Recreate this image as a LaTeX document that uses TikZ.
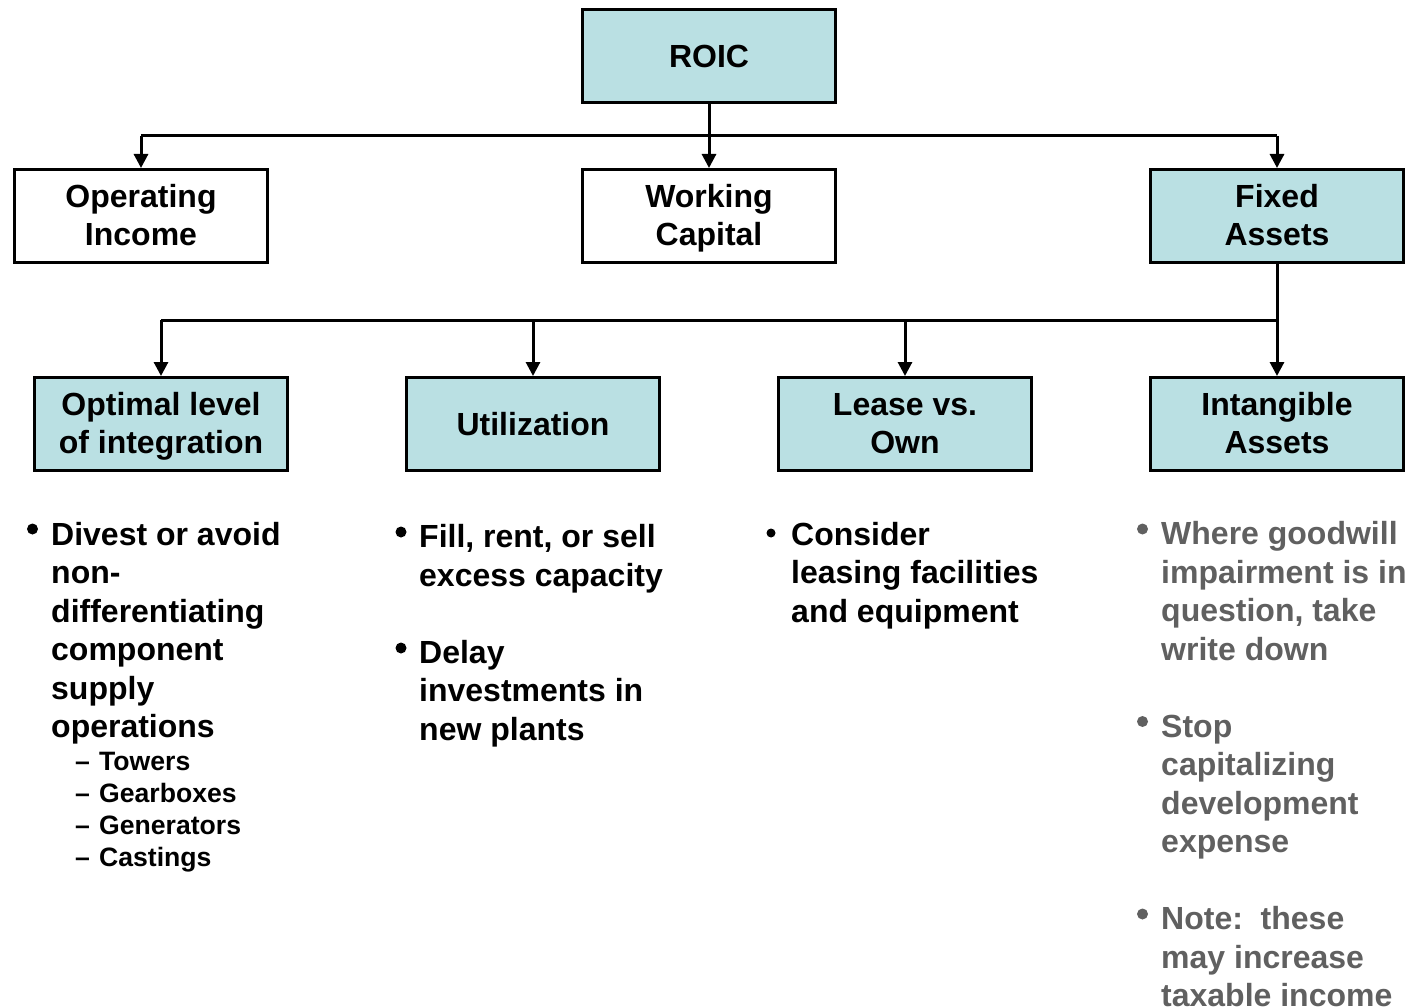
\documentclass[tikz,border=0pt]{standalone}
\usepackage{fontspec}
\setmainfont{Liberation Sans}
\usetikzlibrary{arrows.meta}
\definecolor{boxblue}{RGB}{186,224,227}
\definecolor{notegray}{RGB}{96,96,96}
\newcommand{\twolines}[2]{\begin{tabular}[t]{@{}c@{}}#1\\#2\end{tabular}}
\tikzset{
  box/.style={draw=black, line width=3pt, minimum width=253pt, minimum height=93pt,
    align=center, inner sep=0pt, font=\fontsize{32}{38}\selectfont\bfseries},
  bluebox/.style={box, fill=boxblue},
  whitebox/.style={box, fill=white},
  twoline/.style={text height=29pt, text depth=46pt},
  conn/.style={line width=3pt, draw=black},
  arr/.style={conn, -{Triangle[width=14pt,length=14pt]}},
  bulltxt/.style={anchor=base west, inner sep=0pt, align=left,
    font=\fontsize{32}{38.5}\selectfont\bfseries},
  subtxt/.style={anchor=base west, inner sep=0pt, align=left,
    font=\fontsize{26.6}{32}\selectfont\bfseries},
}
\begin{document}
\begin{tikzpicture}[x=1pt,y=-1pt]
\useasboundingbox (0,0) rectangle (1410,1008);

% top
\node[bluebox] (roic) at (709,56) {ROIC};
% row 1
\node[whitebox, twoline] (opinc) at (141,216) {\twolines{Operating}{Income}};
\node[whitebox, twoline] (wcap) at (709,216) {\twolines{Working}{Capital}};
\node[bluebox, twoline] (fixed) at (1277,216) {\twolines{Fixed}{Assets}};
% row 2
\node[bluebox, twoline] (optimal) at (161,424) {\twolines{Optimal level}{of integration}};
\node[bluebox] (util) at (533,424) {Utilization};
\node[bluebox, twoline] (lease) at (905,424) {\twolines{Lease vs.}{Own}};
\node[bluebox, twoline] (intang) at (1277,424) {\twolines{Intangible}{Assets}};

% connectors level 1
\coordinate (bus1) at (0,136);
\draw[conn] (roic.south) -- (roic.south |- bus1);
\draw[conn] (opinc.north |- bus1) -- (fixed.north |- bus1);
\draw[arr] (opinc.north |- bus1) -- (opinc.north);
\draw[arr] (wcap.north |- bus1) -- (wcap.north);
\draw[arr] (fixed.north |- bus1) -- (fixed.north);

% connectors level 2
\coordinate (bus2) at (0,320);
\draw[conn] (fixed.south) -- (fixed.south |- bus2);
\draw[conn] (optimal.north |- bus2) -- (intang.north |- bus2);
\draw[arr] (optimal.north |- bus2) -- (optimal.north);
\draw[arr] (util.north |- bus2) -- (util.north);
\draw[arr] (lease.north |- bus2) -- (lease.north);
\draw[arr] (intang.north |- bus2) -- (intang.north);

% column 1
\fill[black] (32.5,529) circle (5.5);
\node[bulltxt] (c1) at (51,545) {\begin{tabular}[t]{@{}l@{}}Divest or avoid\\non-\\differentiating\\component\\supply\\operations\end{tabular}};
\node[subtxt] (c1sub) at (75,770) {\begin{tabular}[t]{@{}l@{}}\makebox[24pt][l]{–}Towers\\\makebox[24pt][l]{–}Gearboxes\\\makebox[24pt][l]{–}Generators\\\makebox[24pt][l]{–}Castings\end{tabular}};

% column 2
\fill[black] (401,532) circle (5.5);
\fill[black] (401,648) circle (5.5);
\node[bulltxt] (c2) at (419,547.5) {\begin{tabular}[t]{@{}l@{}}Fill, rent, or sell\\excess capacity\\ \\Delay\\investments in\\new plants\end{tabular}};

% column 3
\fill[black] (771,533) circle (4.5);
\node[bulltxt] (c3) at (791,545) {\begin{tabular}[t]{@{}l@{}}Consider\\leasing facilities\\and equipment\end{tabular}};

% column 4
\fill[notegray] (1142.5,529) circle (5.5);
\fill[notegray] (1142.5,721.5) circle (5.5);
\fill[notegray] (1142.5,914) circle (5.5);
\node[bulltxt, text=notegray] (c4) at (1161,544.5) {\begin{tabular}[t]{@{}l@{}}Where goodwill\\impairment is in\\question, take\\write down\\ \\Stop\\capitalizing\\development\\expense\\ \\Note:\ \ these\\may increase\\taxable income\end{tabular}};
\end{tikzpicture}
\end{document}
